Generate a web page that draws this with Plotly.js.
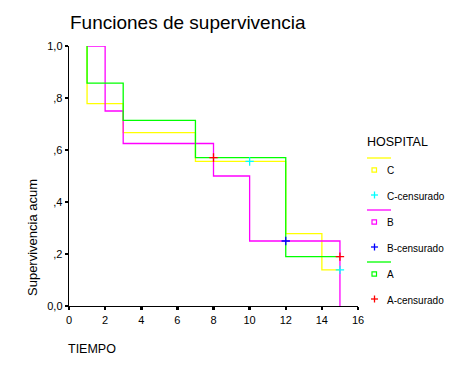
<!DOCTYPE html>
<html>
<head>
<meta charset="utf-8">
<script src="https://cdn.plot.ly/plotly-3.0.1.min.js"></script>
<style>html,body{margin:0;padding:0;background:#fff;}#chart{width:457px;height:366px;}</style>
</head>
<body>
<div id="chart"></div>
<script>
// ---- Data ----
// Hospital C
const cTime = [1, 1, 3, 7, 12, 14, 15];
const cSurv = [1.0, 0.778, 0.667, 0.556, 0.278, 0.139, 0.139];
const cCensTime = [10, 15];
const cCensSurv = [0.556, 0.139];
// Hospital B
const bTime = [1, 2, 3, 8, 10, 15];
const bSurv = [1.0, 0.75, 0.625, 0.5, 0.25, 0.0];
const bCensTime = [12];
const bCensSurv = [0.25];
// Hospital A
const aTime = [1, 1, 3, 7, 12, 15];
const aSurv = [1.0, 0.857, 0.714, 0.571, 0.190, 0.190];
const aCensTime = [8, 15];
const aCensSurv = [0.571, 0.190];

const xTickVals = [0, 2, 4, 6, 8, 10, 12, 14, 16];
const yTickVals = [0, 0.2, 0.4, 0.6, 0.8, 1.0];
const yTickText = ['0,0', ',2', ',4', ',6', ',8', '1,0'];

const legendGroups = ['C', 'B', 'A'];
const legendLabels = ['C', 'C-censurado', 'B', 'B-censurado', 'A', 'A-censurado'];

// ---- Styling ----
const FONT = 'Arial, "Liberation Sans", sans-serif';
const YEL = '#FFFF00', MAG = '#FF00FF', GRN = '#00FF00';
const CYA = '#00FFFF', BLU = '#0000FF', RED = '#FF0000';

const W = 457, H = 366;
const L = 69, R = 358, T = 46, B = 306;
const px = x => (x - L) / (R - L);
const py = y => (B - y) / (B - T);

function stepTrace(x, y, color) {
  return {x: x, y: y, type: 'scatter', mode: 'lines',
          line: {shape: 'hv', color: color, width: 1.3},
          hoverinfo: 'skip', showlegend: false, cliponaxis: false};
}
function censTrace(x, y, color) {
  return {x: x, y: y, type: 'scatter', mode: 'markers',
          marker: {symbol: 'cross-thin', size: 6, line: {color: color, width: 1.3}},
          hoverinfo: 'skip', showlegend: false, cliponaxis: false};
}

const traces = [
  stepTrace(cTime, cSurv, YEL),
  stepTrace(bTime, bSurv, MAG),
  stepTrace(aTime, aSurv, GRN),
  censTrace(cCensTime, cCensSurv, CYA),
  censTrace(bCensTime, bCensSurv, BLU),
  censTrace(aCensTime, aCensSurv, RED)
];

// ---- Custom SPSS-style legend ----
const shapes = [];
const annotations = [];
const lineColors = [YEL, MAG, GRN];
const censColors = [CYA, BLU, RED];
const groupTop = [158, 210, 262];
legendGroups.forEach((g, i) => {
  const y0 = groupTop[i];
  shapes.push({type: 'line', xref: 'paper', yref: 'paper',
    x0: px(367), x1: px(391), y0: py(y0), y1: py(y0),
    line: {color: lineColors[i], width: 1.3}});
  const sy = y0 + 12;
  shapes.push({type: 'rect', xref: 'paper', yref: 'paper',
    x0: px(372), x1: px(376.5), y0: py(sy - 2.2), y1: py(sy + 2.2),
    line: {color: lineColors[i], width: 1.2}});
  annotations.push({xref: 'paper', yref: 'paper', x: px(385), y: py(sy + 0.5),
    xanchor: 'left', yanchor: 'middle', showarrow: false,
    text: legendLabels[2 * i], font: {family: FONT, size: 10, color: '#000'}});
  const cy = y0 + 37;
  shapes.push({type: 'line', xref: 'paper', yref: 'paper',
    x0: px(371), x1: px(378), y0: py(cy), y1: py(cy),
    line: {color: censColors[i], width: 1.3}});
  shapes.push({type: 'line', xref: 'paper', yref: 'paper',
    x0: px(374.5), x1: px(374.5), y0: py(cy - 3.5), y1: py(cy + 3.5),
    line: {color: censColors[i], width: 1.3}});
  annotations.push({xref: 'paper', yref: 'paper', x: px(385), y: py(cy + 1.5),
    xanchor: 'left', yanchor: 'middle', showarrow: false,
    text: legendLabels[2 * i + 1], font: {family: FONT, size: 10, color: '#000'}});
});
annotations.push({xref: 'paper', yref: 'paper', x: px(365), y: py(142),
  xanchor: 'left', yanchor: 'middle', showarrow: false,
  text: 'HOSPITAL', font: {family: FONT, size: 12.5, color: '#000'}});
// axis titles
annotations.push({xref: 'paper', yref: 'paper', x: px(32), y: py(238),
  xanchor: 'center', yanchor: 'middle', showarrow: false, textangle: -90,
  text: 'Supervivencia acum', font: {family: FONT, size: 13, color: '#000'}});
annotations.push({xref: 'paper', yref: 'paper', x: px(66), y: py(349),
  xanchor: 'left', yanchor: 'middle', showarrow: false,
  text: 'TIEMPO', font: {family: FONT, size: 12.5, color: '#000'}});

const layout = {
  width: W, height: H,
  margin: {l: L, r: W - R, t: T, b: H - B, pad: 0},
  paper_bgcolor: '#fff', plot_bgcolor: '#fff',
  showlegend: false,
  title: {text: 'Funciones de supervivencia', x: 70 / W, xanchor: 'left',
          xref: 'container', yref: 'container', y: 1 - 22 / H, yanchor: 'middle',
          font: {family: FONT, size: 19, color: '#000'}},
  xaxis: {range: [0, 16], tickvals: xTickVals, ticks: 'outside', ticklen: 3, tickwidth: 2.5,
          tickcolor: '#000', showline: true, linecolor: '#000', linewidth: 1.3,
          showgrid: false, zeroline: false, fixedrange: true,
          tickfont: {family: FONT, size: 11, color: '#000'}},
  yaxis: {range: [0, 1], tickvals: yTickVals, ticktext: yTickText, ticks: 'outside',
          ticklen: 3, tickwidth: 2.5, tickcolor: '#000', showline: true, linecolor: '#000',
          linewidth: 1.3, showgrid: false, zeroline: false, fixedrange: true,
          tickfont: {family: FONT, size: 11, color: '#000'}},
  shapes: shapes,
  annotations: annotations,
  font: {family: FONT, color: '#000'}
};

Plotly.newPlot('chart', traces, layout, {staticPlot: true, displayModeBar: false});
</script>
</body>
</html>
